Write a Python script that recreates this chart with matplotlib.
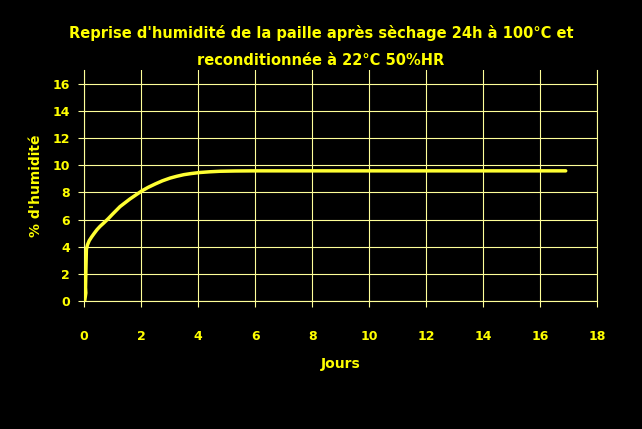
import matplotlib
matplotlib.use("Agg")
import matplotlib.pyplot as plt

# data
jours = [0.02, 0.06, 0.05, 0.06, 0.08, 0.12, 0.18, 0.27, 0.36, 0.45, 0.56, 0.68,
         0.84, 1.0, 1.26, 1.6, 2.02, 2.25, 2.5, 2.75, 3.02, 3.25, 3.5, 3.75,
         4.07, 4.4, 4.77, 5.3, 6, 8, 10, 12, 14, 16, 16.9]
humidite = [0.0, 0.6, 1.0, 2.0, 3.8, 4.15, 4.45, 4.74, 5.0, 5.25, 5.5, 5.73,
            6.05, 6.4, 6.95, 7.5, 8.1, 8.37, 8.62, 8.85, 9.05, 9.18, 9.3, 9.38,
            9.46, 9.51, 9.55, 9.57, 9.58, 9.58, 9.58, 9.58, 9.58, 9.58, 9.58]
xticks = list(range(0, 19, 2))
yticks = list(range(0, 17, 2))

yellow = '#ffff00'
grid_col = '#ffff99'

fig = plt.figure(figsize=(6.42, 4.29), dpi=100, facecolor='black')
ax = fig.add_axes([0.131, 0.298, 0.799, 0.539], facecolor='black')

ax.plot(jours, humidite, color='#ffff33', lw=2.5, solid_capstyle='round', zorder=3)

ax.set_xlim(0, 18)
ax.set_ylim(0, 17)
ax.set_xticks(xticks)
ax.set_yticks(yticks)
ax.grid(True, color=grid_col, lw=0.8)
ax.spines['top'].set_visible(False)
for s in ['left', 'bottom', 'right']:
    ax.spines[s].set_color(grid_col)
    ax.spines[s].set_linewidth(0.8)
ax.tick_params(axis='both', colors=grid_col, length=4, width=0.8,
               labelcolor=yellow, labelsize=9)
ax.tick_params(axis='x', pad=17)
ax.tick_params(axis='y', pad=6)
for lab in ax.get_xticklabels() + ax.get_yticklabels():
    lab.set_fontweight('bold')

ax.set_xlabel('Jours', color=yellow, fontsize=10, fontweight='bold', labelpad=10)
ax.set_ylabel("% d'humidité", color=yellow, fontsize=10, fontweight='bold', labelpad=7)

fig.text(0.5, 0.922, "Reprise d'humidité de la paille après sèchage 24h à 100°C et",
         ha='center', va='center', color=yellow, fontsize=10.5, fontweight='bold')
fig.text(0.5, 0.86, "reconditionnée à 22°C 50%HR",
         ha='center', va='center', color=yellow, fontsize=10.5, fontweight='bold')

fig.savefig('out.png', dpi=100, facecolor='black')
